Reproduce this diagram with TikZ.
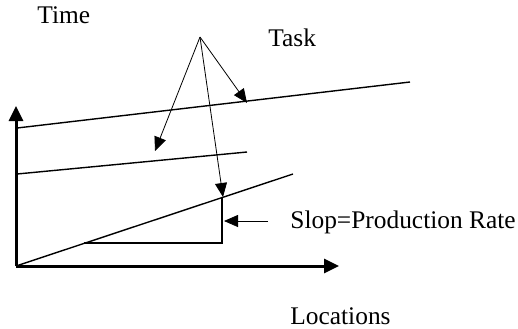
\documentclass[tikz,border=0pt]{standalone}
\usepackage{fontspec}
\setmainfont{Liberation Serif}
\usetikzlibrary{arrows.meta}

\begin{document}
\begin{tikzpicture}[
    x=0.5pt, y=-0.5pt,
    axis/.style={line width=1.5pt, -{Triangle[length=7.5pt, width=7pt]}},
    task/.style={line width=0.7pt},
    pointer/.style={line width=0.4pt, -{Triangle[length=7pt, width=6pt]}},
    label/.style={font=\fontsize{12.7}{15}\selectfont, inner sep=0pt, anchor=west}
]
\useasboundingbox (0,0) rectangle (518,328);

% Axes
\coordinate (origin) at (16,266);
\coordinate (timeend) at (16,106);
\coordinate (locend) at (339,266);
\draw[axis] (origin) -- (timeend);
\draw[axis] (origin) -- (locend);

% Task lines
\coordinate (taskA0) at (17,128);
\coordinate (taskA1) at (410,82);
\coordinate (taskB0) at (17,174);
\coordinate (taskB1) at (247,152);
\coordinate (taskC1) at (293,174);
\draw[task] (taskA0) -- (taskA1);
\draw[task] (taskB0) -- (taskB1);
\draw[task] (origin) -- (taskC1);

% Slope triangle
\coordinate (rise0) at (84,243);
\coordinate (corner) at (222,243);
\coordinate (rise1) at (222,197);
\draw[line width=0.7pt] (rise0) -- (corner) -- (rise1);

% Labels
\node[label] (time) at (37,15) {Time};
\node[label] (task) at (268,38) {Task};
\node[label] (rate) at (290,222) {Slop=Production Rate};
\node[label] (loc) at (290,316) {Locations};

% Pointers
\coordinate (hub) at (200,37);
\coordinate (tipA) at (247,103);
\coordinate (tipB) at (155,151);
\coordinate (tipC) at (223,197);
\coordinate (rateend) at (268,221);
\coordinate (ratetip) at (224,221);
\draw[pointer] (hub) -- (tipA);
\draw[pointer] (hub) -- (tipB);
\draw[pointer] (hub) -- (tipC);
\draw[pointer] (rateend) -- (ratetip);

\end{tikzpicture}
\end{document}
